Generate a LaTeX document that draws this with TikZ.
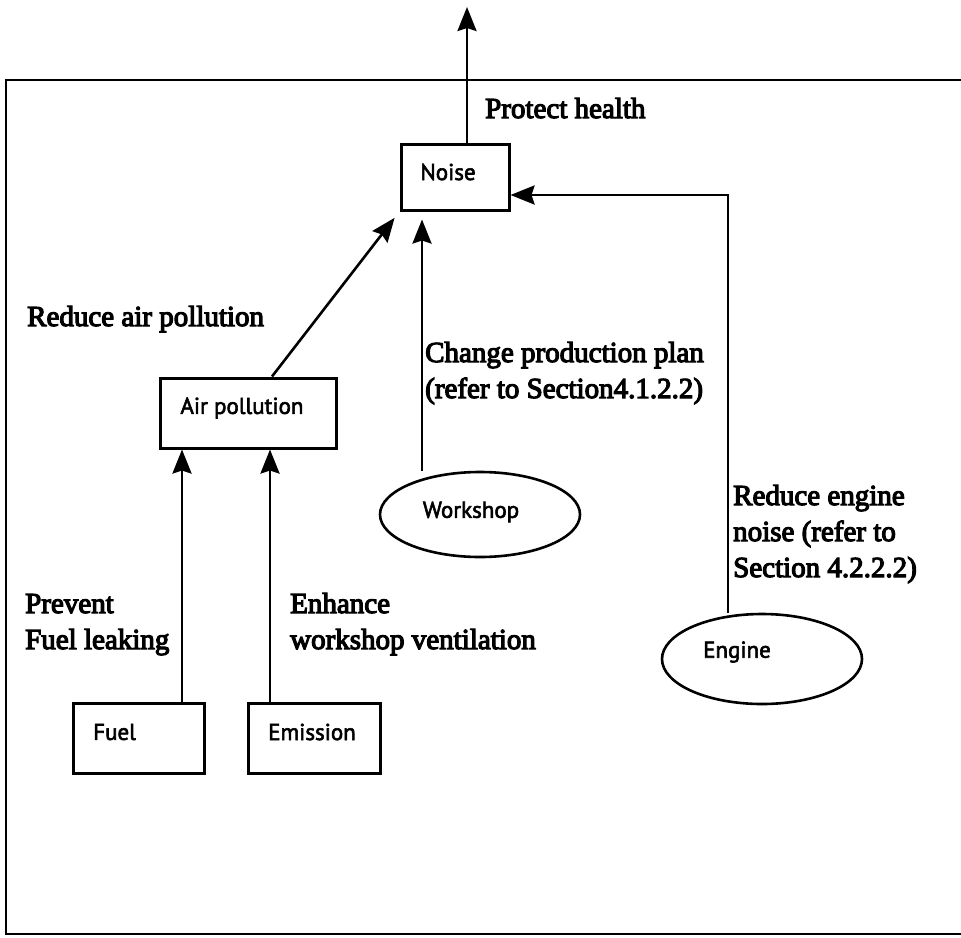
\documentclass[tikz,border=0pt]{standalone}
\usepackage{fontspec}
\usetikzlibrary{arrows.meta,shapes.geometric}
\newfontfamily\lblfont[FakeBold=4]{Liberation Serif}
\newfontfamily\boxfont[FakeBold=2.5]{PT Sans}
\tikzset{
  lbl/.style={font=\lblfont\fontsize{29}{36}\selectfont, anchor=base west, inner sep=0pt, align=left},
  boxtxt/.style={font=\boxfont\fontsize{23}{27}\selectfont, inner sep=0pt},
  boxnode/.style={draw, line width=3pt, inner sep=0pt},
  ellnode/.style={draw, ellipse, line width=2.6pt, inner sep=0pt},
  arr/.style={line width=2.6pt, -{Stealth[length=24pt,width=19pt,inset=3pt]}},
  frame/.style={line width=2.8pt}
}
\begin{document}
\begin{tikzpicture}[x=1pt,y=-1pt]
\useasboundingbox (0,0) rectangle (961,937);
% frame
\coordinate (ftl) at (6,80);
\coordinate (ftr) at (961,80);
\coordinate (fbl) at (6,934);
\coordinate (fbr) at (961,934);
\draw[frame] (ftr) -- (ftl) -- (fbl) -- (fbr);
% shapes
\node[boxnode, minimum width=108pt, minimum height=66pt] (noise) at (455,177) {};
\node[boxnode, minimum width=176pt, minimum height=70pt] (air) at (248,413) {};
\node[boxnode, minimum width=131pt, minimum height=70pt] (fuel) at (138.5,738) {};
\node[boxnode, minimum width=132pt, minimum height=70pt] (emission) at (314,738) {};
\node[ellnode, minimum width=200pt, minimum height=85pt] (workshop) at (480,514.5) {};
\node[ellnode, minimum width=200pt, minimum height=90pt] (engine) at (762,659) {};
% box texts
\node[boxtxt] (noiset) at (448,172) {Noise};
\node[boxtxt] (airt) at (242,408) {Air pollution};
\node[boxtxt, anchor=west] (fuelt) at (93,732) {Fuel};
\node[boxtxt] (emissiont) at (312,732) {Emission};
\node[boxtxt] (workshopt) at (471,512) {Workshop};
\node[boxtxt] (enginet) at (737,652) {Engine};
% labels (base = baseline of last line)
\node[lbl] (l1) at (485,118) {Protect health};
\node[lbl] (l2) at (27,326) {Reduce air pollution};
\node[lbl] (l3) at (425,398) {Change production plan\\(refer to Section4.1.2.2)};
\node[lbl] (l4) at (733,577) {Reduce engine\\noise (refer to\\Section 4.2.2.2)};
\node[lbl] (l5) at (25,649) {Prevent\\Fuel leaking};
\node[lbl] (l6) at (290,649) {Enhance\\workshop ventilation};
% coordinates
\coordinate (top) at (467,7);
\coordinate (ecorner) at (728,195);
\coordinate (wx) at (422,0);
\coordinate (airstart) at (272,0);
\coordinate (fx) at (182,0);
\coordinate (ex) at (270,0);
% connectors
\draw[arr] (top |- noise.north) -- (top);
\draw[arr] (ecorner |- engine.north) -- (ecorner) -- (noise.east |- ecorner);
\draw[arr, shorten >=8pt] (wx |- workshop.north) -- (wx |- noise.south);
\draw[arr, shorten >=8pt] (airstart |- air.north) -- (noise.south west);
\draw[arr] (fx |- fuel.north) -- (fx |- air.south);
\draw[arr] (ex |- emission.north) -- (ex |- air.south);
\end{tikzpicture}
\end{document}
